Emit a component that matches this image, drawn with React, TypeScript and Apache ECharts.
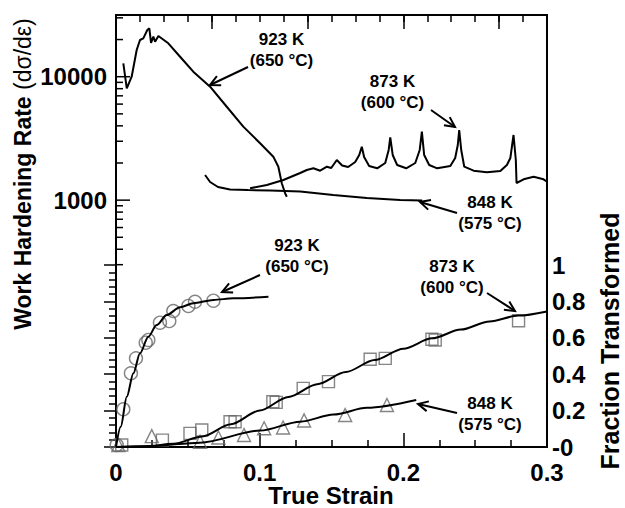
import React, { useEffect, useRef } from 'react';
import * as echarts from 'echarts';

const FONT = '"Liberation Sans", Arial, Helvetica, sans-serif';

// ---- Work hardening rate (upper panel, log axis) ----
const whr923Strain = [0.0051, 0.0075, 0.0109, 0.0144, 0.0167, 0.019, 0.0218, 0.0232, 0.0244, 0.026, 0.0272, 0.0295, 0.0364, 0.0446, 0.0538, 0.0655, 0.0771, 0.0886, 0.1003, 0.1095, 0.113, 0.1154, 0.1177, 0.1189];
const whr923Rate = [12850, 8050, 10000, 16450, 19840, 20470, 23900, 24660, 18760, 21100, 19210, 21380, 18650, 14520, 10980, 8300, 5710, 3940, 2890, 2250, 1866, 1369, 1136, 1066];

const whr873Strain = [0.0933, 0.105, 0.1165, 0.1282, 0.1328, 0.1374, 0.1421, 0.1468, 0.1498, 0.1537, 0.1574, 0.1616, 0.1665, 0.1693, 0.1711, 0.1727, 0.1762, 0.1818, 0.1874, 0.1898, 0.1909, 0.1926, 0.1957, 0.202, 0.2083, 0.2114, 0.2129, 0.2145, 0.218, 0.2236, 0.2327, 0.2361, 0.2379, 0.2389, 0.2403, 0.2424, 0.2489, 0.2582, 0.2675, 0.2721, 0.2745, 0.2767, 0.2783, 0.2788, 0.2837, 0.2907, 0.2976, 0.3];
const whr873Rate = [1247, 1327, 1456, 1660, 1755, 1811, 1732, 1866, 1821, 2114, 1909, 1856, 2037, 2322, 2710, 2236, 1891, 1811, 2000, 2549, 3218, 2322, 1926, 1811, 2000, 2549, 3585, 2322, 1926, 1811, 1891, 2195, 2798, 3701, 2549, 1866, 1732, 1681, 1722, 1926, 2195, 3373, 2114, 1377, 1475, 1549, 1475, 1410];

const whr848Strain = [0.062, 0.0655, 0.071, 0.0794, 0.0919, 0.1073, 0.1282, 0.1512, 0.1746, 0.1978, 0.2131];
const whr848Rate = [1598, 1403, 1278, 1220, 1208, 1197, 1175, 1101, 1041, 1003, 993];

// ---- Fraction transformed (lower panel) ----
const frac923Strain = [0.0005, 0.0051, 0.0104, 0.0139, 0.0207, 0.0225, 0.0306, 0.0371, 0.0399, 0.0504, 0.055, 0.0678];
const frac923Value = [0.011, 0.207, 0.405, 0.487, 0.573, 0.588, 0.683, 0.692, 0.747, 0.775, 0.798, 0.804];
const fit923Strain = [0, 0.0033, 0.0075, 0.0121, 0.0167, 0.0225, 0.0283, 0.0353, 0.0446, 0.0538, 0.0678, 0.0817, 0.1061];
const fit923Value = [0, 0.1115, 0.276, 0.405, 0.515, 0.606, 0.67, 0.725, 0.768, 0.79, 0.808, 0.817, 0.826];

const frac873Strain = [0.004, 0.0323, 0.0515, 0.0597, 0.0794, 0.0829, 0.1092, 0.1115, 0.1303, 0.1479, 0.1769, 0.1874, 0.2199, 0.2222, 0.2802];
const frac873Value = [0.011, 0.038, 0.075, 0.093, 0.139, 0.139, 0.249, 0.245, 0.322, 0.359, 0.482, 0.487, 0.592, 0.588, 0.694];
const fit873Strain = [0, 0.02, 0.04, 0.06, 0.08, 0.1, 0.12, 0.14, 0.16, 0.18, 0.2, 0.22, 0.24, 0.26, 0.28, 0.3];
const fit873Value = [0, 0.002, 0.018, 0.058, 0.125, 0.2, 0.275, 0.345, 0.412, 0.478, 0.54, 0.597, 0.645, 0.69, 0.722, 0.745];

const frac848Strain = [0.0016, 0.0249, 0.0585, 0.0713, 0.0891, 0.1031, 0.1163, 0.1309, 0.1595, 0.1886];
const frac848Value = [0.011, 0.06, 0.029, 0.052, 0.066, 0.103, 0.107, 0.146, 0.176, 0.231];
const fit848Strain = [0, 0.0237, 0.0585, 0.1003, 0.1282, 0.1514, 0.1746, 0.209];
const fit848Value = [0, 0.006, 0.024, 0.09, 0.139, 0.178, 0.215, 0.258];

// ---- Axis ticks and tick labels ----
const logMajorTicks = [1000, 10000];
const logMinorTicks = [300, 400, 500, 600, 700, 800, 900, 2000, 3000, 4000, 5000, 6000, 7000, 8000, 9000, 20000, 30000];
const logLabels = [1000, 10000];
const strainLabels = [0, 0.1, 0.2, 0.3];
const fractionLabels = [0, 0.2, 0.4, 0.6, 0.8, 1];

const zip = (a: number[], b: number[]) => a.map((v, i) => [v, b[i]]);

function arrow(x1: number, y1: number, x2: number, y2: number) {
  const ang = Math.atan2(y2 - y1, x2 - x1);
  const L = 10, W = 5;
  const bx = x2 - L * Math.cos(ang), by = y2 - L * Math.sin(ang);
  const px = -Math.sin(ang) * W, py = Math.cos(ang) * W;
  return [
    { type: 'line', shape: { x1, y1, x2, y2 }, style: { stroke: '#000', lineWidth: 2 } },
    { type: 'polyline', shape: { points: [[bx + px, by + py], [x2, y2], [bx - px, by - py]] }, style: { stroke: '#000', lineWidth: 2, fill: null } },
  ];
}

function label(text: string, x: number, y: number) {
  return {
    type: 'text', x, y,
    style: { text, textAlign: 'center', textVerticalAlign: 'middle', fontSize: 17, fontWeight: 'bold', fontFamily: FONT, fill: '#000', lineHeight: 21 },
  };
}

function tickSeries(values: number[], len: number) {
  return {
    type: 'custom', xAxisIndex: 0, yAxisIndex: 0, silent: true, clip: false,
    data: values.map((v) => [0, v]),
    renderItem: (_p: any, api: any) => {
      const pt = api.coord([api.value(0), api.value(1)]);
      return { type: 'line', shape: { x1: pt[0], y1: pt[1], x2: pt[0] + len, y2: pt[1] }, style: { stroke: '#000', lineWidth: 1.5 } };
    },
  };
}

function tickLabelSeries(
  data: number[][], xAxisIndex: number, yAxisIndex: number, textOf: (d: number[]) => string,
  dx: number, dy: number, align: string, vAlign: string,
) {
  return {
    type: 'custom', xAxisIndex, yAxisIndex, silent: true, clip: false, data,
    renderItem: (_p: any, api: any) => {
      const d = [api.value(0), api.value(1)];
      const pt = api.coord(d);
      return {
        type: 'text', x: pt[0] + dx, y: pt[1] + dy,
        style: { text: textOf(d), textAlign: align, textVerticalAlign: vAlign, fontSize: 24, fontWeight: 'bold', fontFamily: FONT, fill: '#000' },
      };
    },
  };
}

const tickStyle = { color: '#000', width: 1.5 };
const markerStyle = { color: 'rgba(0,0,0,0)', borderColor: '#666666', borderWidth: 1.4 };
const fmtFrac = (v: number) => (v === 0 ? '-0' : String(Math.round(v * 10) / 10));

export default function App() {
  const ref = useRef<HTMLDivElement>(null);
  useEffect(() => {
    const chart = echarts.init(ref.current!, null, { renderer: 'svg' });
    const option: any = {
      animation: false,
      backgroundColor: '#fff',
      grid: [
        { left: 116, right: 78, top: 15, bottom: 61, show: true, borderColor: '#000', borderWidth: 2, backgroundColor: 'transparent', outerBoundsMode: 'none', containLabel: false },
        { left: 116, right: 78, top: 265, bottom: 61, show: false, outerBoundsMode: 'none', containLabel: false },
      ],
      xAxis: [
        {
          gridIndex: 0, type: 'value', position: 'bottom', min: 0, max: 0.3, interval: 0.1,
          axisLine: { show: false }, splitLine: { show: false }, axisLabel: { show: false },
          axisTick: { show: true, inside: true, length: 14, lineStyle: tickStyle },
          minorTick: { show: true, splitNumber: 4, length: 7, lineStyle: tickStyle },
        },
        {
          gridIndex: 0, type: 'value', position: 'top', min: 0, max: 0.45, interval: 0.025,
          axisLine: { show: false }, splitLine: { show: false }, axisLabel: { show: false },
          axisTick: { show: true, inside: true, length: 7, lineStyle: tickStyle },
        },
        {
          gridIndex: 0, type: 'value', position: 'top', min: 0, max: 0.45, interval: 0.1,
          axisLine: { show: false }, splitLine: { show: false }, axisLabel: { show: false },
          axisTick: { show: true, inside: true, length: 14, lineStyle: tickStyle },
        },
        { gridIndex: 1, type: 'value', min: 0, max: 0.3, show: false },
      ],
      yAxis: [
        {
          gridIndex: 0, type: 'log', logBase: 10, position: 'left', min: 10, max: 31623,
          axisLine: { show: false }, axisTick: { show: false }, splitLine: { show: false }, axisLabel: { show: false },
        },
        {
          gridIndex: 1, type: 'value', position: 'right', min: 0, max: 1, interval: 0.2,
          axisLine: { show: false }, splitLine: { show: false }, axisLabel: { show: false },
          axisTick: { show: true, inside: true, length: 12, lineStyle: tickStyle },
          minorTick: { show: true, splitNumber: 5, length: 7, lineStyle: tickStyle },
        },
      ],
      series: [
        tickSeries(logMajorTicks, 14),
        tickSeries(logMinorTicks, 7),
        tickLabelSeries(logLabels.map((v) => [0, v]), 0, 0, (d) => String(Math.round(d[1])), -9, 0, 'right', 'middle'),
        tickLabelSeries(strainLabels.map((v) => [v, 0]), 3, 1, (d) => String(d[0]), 0, 13, 'center', 'top'),
        tickLabelSeries(fractionLabels.map((v) => [0.3, v]), 3, 1, (d) => fmtFrac(d[1]), 5, 0, 'left', 'middle'),
        { type: 'line', xAxisIndex: 0, yAxisIndex: 0, data: zip(whr923Strain, whr923Rate), showSymbol: false, lineStyle: { color: '#000', width: 2 }, silent: true },
        { type: 'line', xAxisIndex: 0, yAxisIndex: 0, data: zip(whr873Strain, whr873Rate), showSymbol: false, lineStyle: { color: '#000', width: 2 }, silent: true },
        { type: 'line', xAxisIndex: 0, yAxisIndex: 0, data: zip(whr848Strain, whr848Rate), showSymbol: false, lineStyle: { color: '#000', width: 2 }, silent: true },
        { type: 'line', xAxisIndex: 3, yAxisIndex: 1, data: zip(fit923Strain, fit923Value), showSymbol: false, smooth: 0.3, smoothMonotone: 'x', lineStyle: { color: '#000', width: 2 }, silent: true },
        { type: 'line', xAxisIndex: 3, yAxisIndex: 1, data: zip(fit873Strain, fit873Value), showSymbol: false, smooth: 0.3, smoothMonotone: 'x', lineStyle: { color: '#000', width: 2 }, silent: true },
        { type: 'line', xAxisIndex: 3, yAxisIndex: 1, data: zip(fit848Strain, fit848Value), showSymbol: false, smooth: 0.3, smoothMonotone: 'x', lineStyle: { color: '#000', width: 2 }, silent: true },
        { type: 'scatter', xAxisIndex: 3, yAxisIndex: 1, data: zip(frac923Strain, frac923Value), symbol: 'circle', symbolSize: 13, itemStyle: markerStyle, silent: true },
        { type: 'scatter', xAxisIndex: 3, yAxisIndex: 1, data: zip(frac873Strain, frac873Value), symbol: 'rect', symbolSize: 12, itemStyle: markerStyle, silent: true },
        { type: 'scatter', xAxisIndex: 3, yAxisIndex: 1, data: zip(frac848Strain, frac848Value), symbol: 'triangle', symbolSize: 13, itemStyle: markerStyle, silent: true },
      ],
      graphic: [
        {
          type: 'text', x: 23, y: 174, rotation: Math.PI / 2,
          style: {
            text: '{a|Work Hardening Rate }{b|(dσ/dε)}', textAlign: 'center', textVerticalAlign: 'middle',
            rich: {
              a: { fontSize: 23, fontWeight: 'bold', fontFamily: FONT, fill: '#000' },
              b: { fontSize: 23, fontWeight: 'normal', fontFamily: FONT, fill: '#000' },
            },
          },
        },
        {
          type: 'text', x: 610, y: 341, rotation: Math.PI / 2,
          style: { text: 'Fraction Transformed', textAlign: 'center', textVerticalAlign: 'middle', fontSize: 25, fontWeight: 'bold', fontFamily: FONT, fill: '#000' },
        },
        {
          type: 'text', x: 331, y: 495,
          style: { text: 'True Strain', textAlign: 'center', textVerticalAlign: 'middle', fontSize: 24, fontWeight: 'bold', fontFamily: FONT, fill: '#000' },
        },
        label('923 K\n(650 °C)', 281.5, 50),
        ...arrow(248, 67, 210, 85),
        label('873 K\n(600 °C)', 392.5, 92),
        ...arrow(431, 110, 455, 127),
        label('848 K\n(575 °C)', 490, 213),
        ...arrow(457, 213, 420, 202),
        label('923 K\n(650 °C)', 297, 256),
        ...arrow(260, 275, 222, 292),
        label('873 K\n(600 °C)', 452, 277),
        ...arrow(487, 293, 515, 311),
        label('848 K\n(575 °C)', 490, 413.5),
        ...arrow(457, 413, 418, 404),
      ],
    };
    chart.setOption(option);
    return () => chart.dispose();
  }, []);
  return <div ref={ref} style={{ position: 'fixed', left: 0, top: 0, width: 625, height: 508 }} />;
}
